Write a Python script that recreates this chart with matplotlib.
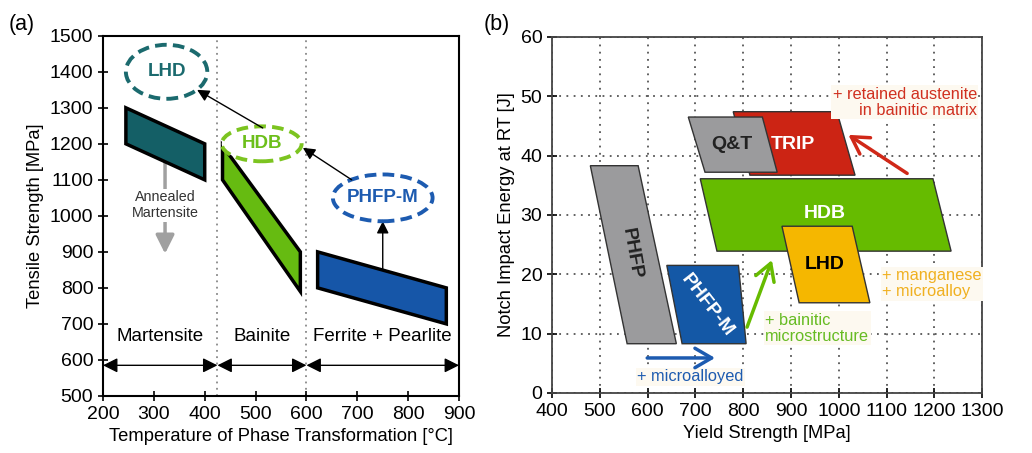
import numpy as np
import matplotlib
matplotlib.use("Agg")
import matplotlib.pyplot as plt
from matplotlib.patches import Polygon, Ellipse

plt.rcParams['font.family'] = ['Liberation Sans', 'DejaVu Sans']
plt.rcParams['font.size'] = 12

# --- panel (a): temperature vs tensile strength ---
martensite_t = [245, 245, 400, 400]
martensite_s = [1300, 1200, 1100, 1200]
bainite_t = [435, 435, 588, 588]
bainite_s = [1195, 1100, 790, 900]
ferrite_t = [622, 622, 875, 875]
ferrite_s = [900, 800, 700, 800]

phase_bounds = [200, 425, 600, 900]
phase_names = ["Martensite", "Bainite", "Ferrite + Pearlite"]

ellipse_names = ["LHD", "HDB", "PHFP-M"]
ellipse_x = [325, 512, 750]
ellipse_y = [1400, 1200, 1050]
ellipse_w = [160, 157, 196]
ellipse_h = [150, 97, 130]

# --- panel (b): yield strength vs notch impact energy ---
phfp_ys = [480, 580, 660, 557]
phfp_e = [38.3, 38.3, 8.3, 8.3]
phfpm_ys = [640, 790, 806, 672]
phfpm_e = [21.5, 21.5, 8.3, 8.3]
trip_ys = [779, 996, 1034, 814]
trip_e = [47.4, 47.4, 36.7, 36.7]
qt_ys = [685, 840, 871, 720]
qt_e = [46.5, 46.5, 37.2, 37.2]
hdb_ys = [710, 1197, 1235, 745]
hdb_e = [36.1, 36.1, 23.9, 23.9]
lhd_ys = [881, 1028, 1065, 917]
lhd_e = [28.1, 28.1, 15.2, 15.2]

fig = plt.figure(figsize=(10.32, 4.53), dpi=100)
ax1 = fig.add_axes([0.0998, 0.126, 0.345, 0.795])
ax2 = fig.add_axes([0.535, 0.1325, 0.4167, 0.786])

# ---------------- (a) ----------------
ax1.set_xlim(200, 900)
ax1.set_ylim(500, 1500)
ax1.set_xticks(np.arange(200, 901, 100))
ax1.set_yticks(np.arange(500, 1501, 100))
ax1.tick_params(direction='inout', length=7, width=1.2, labelsize=14)
for s in ax1.spines.values():
    s.set_linewidth(1.5)
ax1.set_xlabel("Temperature of Phase Transformation [°C]", fontsize=13.2)
ax1.set_ylabel("Tensile Strength [MPa]", fontsize=13.2)

for xb in phase_bounds[1:3]:
    ax1.axvline(xb, color='#888888', ls=(0, (1, 2.5)), lw=1.3, zorder=1)

for i, name in enumerate(phase_names):
    x0, x1 = phase_bounds[i], phase_bounds[i + 1]
    ax1.annotate("", xy=(x1, 585), xytext=(x0, 585),
                 arrowprops=dict(arrowstyle='<|-|>', color='black', lw=1.0,
                                 mutation_scale=22, shrinkA=0, shrinkB=0))
    ax1.text((x0 + x1) / 2, 665, name, ha='center', va='center', fontsize=13.5)

ax1.add_patch(Polygon(np.column_stack([martensite_t, martensite_s]),
                      fc='#145f66', ec='black', lw=2.5, zorder=3))
ax1.add_patch(Polygon(np.column_stack([bainite_t, bainite_s]),
                      fc='#66bb11', ec='black', lw=2.5, zorder=3))
ax1.add_patch(Polygon(np.column_stack([ferrite_t, ferrite_s]),
                      fc='#1656a8', ec='black', lw=2.5, zorder=3))

# annealed martensite arrow
ax1.annotate("", xy=(322, 895), xytext=(322, 1160),
             arrowprops=dict(arrowstyle='-|>', color='#a0a0a0', lw=2.5,
                             mutation_scale=28, shrinkA=0, shrinkB=0), zorder=2)
ax1.text(322, 1030, "Annealed\nMartensite", ha='center', va='center', fontsize=10.3,
         color='#333333', bbox=dict(fc='white', ec='none', pad=1), zorder=4)

ell_colors = ['#1b6a6e', '#7cc420', '#1d5bb0']
ell_text = ['#1b6a6e', '#6cbf1a', '#1d5bb0']
for name, ex, ey, ew, eh, ec, tc in zip(ellipse_names, ellipse_x, ellipse_y,
                                         ellipse_w, ellipse_h, ell_colors, ell_text):
    ax1.add_patch(Ellipse((ex, ey), ew, eh, fc='white', ec=ec, lw=2.8,
                          ls=(0, (3, 1.6)), zorder=5))
    ax1.text(ex, ey, name, ha='center', va='center', fontsize=13.5,
             fontweight='bold', color=tc, zorder=6)

arr = dict(arrowstyle='-|>', color='black', lw=1.0, mutation_scale=18,
           shrinkA=0, shrinkB=0)
ax1.annotate("", xy=(593, 1189), xytext=(689, 1100), arrowprops=arr, zorder=6)
ax1.annotate("", xy=(385, 1350), xytext=(514, 1244), arrowprops=arr, zorder=6)
ax1.annotate("", xy=(750, 985), xytext=(750, 850), arrowprops=arr, zorder=2)

fig.text(0.008, 0.945, "(a)", fontsize=15.5, va='center')

# ---------------- (b) ----------------
ax2.set_xlim(400, 1300)
ax2.set_ylim(0, 60)
ax2.set_xticks(np.arange(400, 1301, 100))
ax2.set_yticks(np.arange(0, 61, 10))
ax2.tick_params(direction='inout', length=7, width=1.2, labelsize=14)
ax2.grid(True, color='#555555', ls=(0, (1, 3)), lw=1.3)
ax2.set_axisbelow(True)
for s in ax2.spines.values():
    s.set_linewidth(1.3)
    s.set_color('#444444')
ax2.set_xlabel("Yield Strength [MPa]", fontsize=13.2)
ax2.set_ylabel("Notch Impact Energy at RT [J]", fontsize=13.2)

poly_kw = dict(ec='#333333', lw=1.0, zorder=3)
ax2.add_patch(Polygon(np.column_stack([phfp_ys, phfp_e]), fc='#9b9b9d', **poly_kw))
ax2.add_patch(Polygon(np.column_stack([phfpm_ys, phfpm_e]), fc='#1458a6', **poly_kw))
ax2.add_patch(Polygon(np.column_stack([trip_ys, trip_e]), fc='#cc2414', **poly_kw))
ax2.add_patch(Polygon(np.column_stack([qt_ys, qt_e]), fc='#9b9b9d', **poly_kw))
ax2.add_patch(Polygon(np.column_stack([hdb_ys, hdb_e]), fc='#66bb00', **poly_kw))
ax2.add_patch(Polygon(np.column_stack([lhd_ys, lhd_e]), fc='#f5b700', **poly_kw))

lbl = dict(ha='center', va='center', fontsize=14, fontweight='bold', zorder=4)
ax2.text(567, 23.4, "PHFP", rotation=-80, color='#222222', **lbl)
ax2.text(724, 14.8, "PHFP-M", rotation=-52, color='white', **lbl)
ax2.text(777, 41.8, "Q&T", color='#222222', **lbl)
ax2.text(904, 41.8, "TRIP", color='white', **lbl)
ax2.text(971, 30.2, "HDB", color='white', **lbl)
ax2.text(971, 21.6, "LHD", color='black', **lbl)

note_bbox = dict(fc='#fdf9f0', ec='none', pad=1)
ax2.text(1289, 49, "+ retained austenite\nin bainitic matrix", ha='right',
         va='center', color='#d03020', fontsize=11.8, linespacing=1.1,
         bbox=note_bbox, zorder=4, multialignment='right')
ax2.text(1091, 18.4, "+ manganese\n+ microalloy", ha='left', va='center',
         color='#f0b020', fontsize=11.8, linespacing=1.1, bbox=note_bbox, zorder=4)
ax2.text(846, 10.9, "+ bainitic\nmicrostructure", ha='left', va='center',
         color='#66bb22', fontsize=11.8, linespacing=1.1, bbox=note_bbox, zorder=4)
ax2.text(689, 2.7, "+ microalloyed", ha='center', va='center',
         color='#1d5bb0', fontsize=11.8, bbox=note_bbox, zorder=4)

ax2.annotate("", xy=(1020, 43.5), xytext=(1143, 37),
             arrowprops=dict(arrowstyle='->,head_length=0.6,head_width=0.35',
                             color='#d02818', lw=2.5, mutation_scale=20,
                             shrinkA=0, shrinkB=0), zorder=5)
ax2.annotate("", xy=(860, 22.4), xytext=(808, 11.1),
             arrowprops=dict(arrowstyle='->,head_length=0.6,head_width=0.35',
                             color='#66bb00', lw=2.5, mutation_scale=20,
                             shrinkA=0, shrinkB=0), zorder=5)
ax2.annotate("", xy=(741, 5.9), xytext=(599, 5.9),
             arrowprops=dict(arrowstyle='->,head_length=0.6,head_width=0.35',
                             color='#1d5bb0', lw=2.5, mutation_scale=20,
                             shrinkA=0, shrinkB=0), zorder=5)

fig.text(0.469, 0.945, "(b)", fontsize=15.5, va='center')

fig.savefig("out.png", dpi=100)
